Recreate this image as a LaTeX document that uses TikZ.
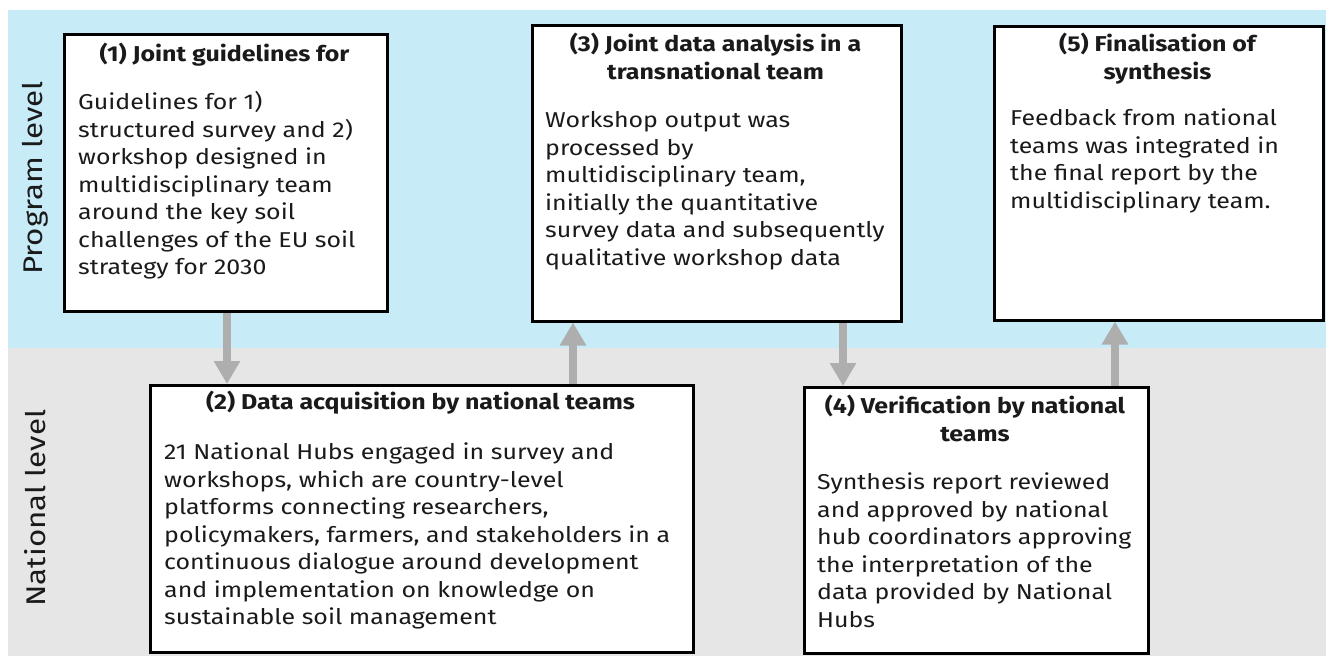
\documentclass[tikz,border=0pt]{standalone}
\usepackage{fontspec}
\setmainfont{Fira Sans}[FakeStretch=1.16]
\usetikzlibrary{arrows.meta}
\definecolor{bandblue}{HTML}{C8EBF8}
\definecolor{bandgray}{HTML}{E6E6E6}
\definecolor{arrgray}{HTML}{AEAEAE}
\definecolor{txt}{HTML}{1A1A1A}
\pgfdeclarelayer{bands}
\pgfdeclarelayer{arrows}
\pgfsetlayers{bands,arrows,main}
\begin{document}
\begin{tikzpicture}[x=1pt,y=-1pt,
  box/.style={draw=black, line width=2.5pt, fill=white, inner sep=0pt, anchor=north west},
  ttl/.style={font=\fontsize{21.5}{28}\selectfont\bfseries, text=txt, align=center, inner sep=0pt, anchor=north},
  bodytext/.style={font=\fontsize{21.5}{27.5}\selectfont, text=txt, align=left, inner sep=0pt, anchor=north west},
  lvl/.style={font=\fontsize{27}{30}\selectfont, text=txt, rotate=90, inner sep=0pt},
  arr/.style={draw=arrgray, line width=8pt, -{Triangle[width=25pt,length=23pt]}}]
\useasboundingbox (0,0) rectangle (1326,659);
\begin{pgfonlayer}{bands}
  \fill[white] (0,0) rectangle (1326,659);
  \fill[bandblue] (8,10) rectangle (1326,348);
  \fill[bandgray] (8,348) rectangle (1326,656);
\end{pgfonlayer}

\node[lvl] (prog) at (35,178) {Program level};
\node[lvl] (nat) at (35,508) {National level};

% boxes
\node[box, minimum width=323pt, minimum height=277pt] (b1) at (63,33) {};
\node[box, minimum width=543pt, minimum height=267pt] (b2) at (149,384) {};
\node[box, minimum width=369pt, minimum height=296pt] (b3) at (531,24) {};
\node[box, minimum width=344pt, minimum height=266pt] (b4) at (803,386) {};
\node[box, minimum width=329pt, minimum height=294pt] (b5) at (993,25) {};

% titles
\node[ttl] (t1) at (224.5,41.5) {\strut(1) Joint guidelines for};
\node[ttl] (t2) at (420.5,389.5) {\strut(2) Data acquisition by national teams};
\node[ttl] (t3) at (715.5,31.5) {\strut(3) Joint data analysis in a\\transnational team};
\node[ttl] (t4) at (975,393.5) {\strut(4) Verification by national\\teams};
\node[ttl] (t5) at (1157.5,31.5) {\strut(5) Finalisation of\\synthesis};

% bodies
\node[bodytext] (d1) at (78,90.25) {\strut Guidelines for 1)\\structured survey and 2)\\workshop designed in\\multidisciplinary team\\around the key soil\\challenges of the EU soil\\strategy for 2030};
\node[bodytext] (d2) at (164,440.25) {\strut 21 National Hubs engaged in survey and\\workshops, which are country-level\\platforms connecting researchers,\\policymakers, farmers, and stakeholders in a\\continuous dialogue around development\\and implementation on knowledge on\\sustainable soil management};
\node[bodytext] (d3) at (545,108.25) {\strut Workshop output was\\processed by\\multidisciplinary team,\\initially the quantitative\\survey data and subsequently\\qualitative workshop data};
\node[bodytext] (d4) at (817,470.25) {\strut Synthesis report reviewed\\and approved by national\\hub coordinators approving\\the interpretation of the\\data provided by National\\Hubs};
\node[bodytext] (d5) at (1010,106.25) {\strut Feedback from national\\teams was integrated in\\the final report by the\\multidisciplinary team.};

% arrows
\begin{pgfonlayer}{arrows}
  \draw[arr] (227,0 |- b1.south) -- (227,0 |- b2.north);
  \draw[arr] (573,0 |- b2.north) -- (573,0 |- b3.south);
  \draw[arr] (843,0 |- b3.south) -- (843,0 |- b4.north);
  \draw[arr] (1115,0 |- b4.north) -- (1115,0 |- b5.south);
\end{pgfonlayer}
\end{tikzpicture}
\end{document}
